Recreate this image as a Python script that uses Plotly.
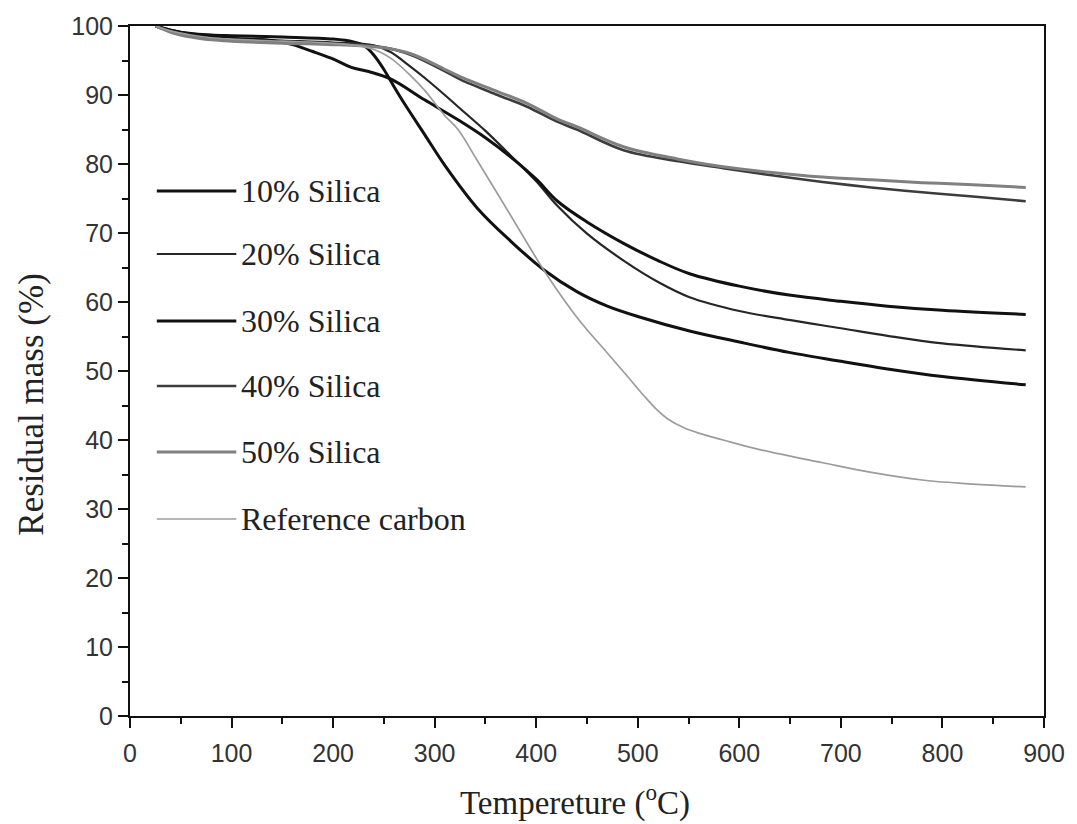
import plotly.graph_objects as go

# ---------------- data ----------------
t_10 = [25, 40, 60, 80, 100, 150, 200, 220, 230, 240, 250, 260, 270, 290, 310, 342, 375, 408, 440, 470, 500, 551, 600, 649, 700, 746, 800, 882]
m_10 = [100, 99.4, 98.9, 98.7, 98.6, 98.4, 98.1, 97.7, 97.2, 95.8, 93.7, 91.2, 88.8, 84.3, 79.8, 73.6, 68.8, 64.6, 61.5, 59.4, 57.9, 55.8, 54.2, 52.7, 51.4, 50.3, 49.2, 48.0]

t_20 = [25, 40, 60, 80, 100, 150, 200, 240, 257, 270, 290, 310, 323, 350, 375, 400, 421, 450, 486, 520, 551, 600, 649, 700, 746, 800, 882]
m_20 = [100, 99.4, 98.8, 98.4, 98.2, 97.9, 97.6, 97.2, 96.2, 94.8, 92.5, 90.0, 88.3, 84.8, 81.2, 77.5, 73.9, 69.9, 66.0, 62.9, 60.7, 58.7, 57.4, 56.2, 55.1, 54.0, 53.0]

t_30 = [25, 40, 60, 80, 100, 140, 160, 180, 202, 218, 235, 257, 290, 323, 350, 375, 400, 421, 450, 486, 520, 551, 600, 649, 700, 746, 800, 882]
m_30 = [100, 99.4, 98.8, 98.4, 98.2, 97.9, 97.3, 96.3, 95.1, 94.0, 93.4, 92.3, 89.3, 86.4, 83.8, 81.0, 77.8, 74.6, 71.6, 68.5, 66.0, 64.1, 62.3, 61.0, 60.1, 59.4, 58.8, 58.2]

t_40 = [25, 40, 60, 80, 100, 150, 200, 240, 260, 280, 313, 326, 362, 391, 421, 440, 486, 540, 584, 630, 682, 730, 780, 830, 882]
m_40 = [100, 99.2, 98.5, 98.1, 97.9, 97.6, 97.4, 97.1, 96.6, 95.6, 93.2, 92.2, 90.0, 88.3, 86.1, 85.0, 82.0, 80.4, 79.4, 78.4, 77.4, 76.6, 75.9, 75.3, 74.6]

t_50 = [25, 40, 60, 80, 100, 150, 200, 240, 260, 280, 313, 326, 362, 391, 421, 440, 486, 540, 584, 630, 682, 730, 780, 830, 882]
m_50 = [100, 99.1, 98.4, 98.0, 97.8, 97.5, 97.3, 97.0, 96.6, 95.8, 93.5, 92.6, 90.5, 88.8, 86.5, 85.4, 82.5, 80.7, 79.6, 78.8, 78.1, 77.7, 77.3, 77.0, 76.6]

t_ref = [25, 40, 60, 80, 100, 150, 200, 230, 245, 257, 275, 290, 310, 323, 342, 375, 408, 440, 470, 490, 505, 518, 530, 545, 560, 584, 620, 682, 730, 780, 830, 882]
m_ref = [100, 99.3, 98.7, 98.3, 98.1, 97.8, 97.5, 97.0, 96.3, 95.3, 93.0, 90.7, 87.0, 85.0, 80.5, 72.5, 64.5, 57.8, 52.6, 49.2, 46.6, 44.5, 43.0, 41.8, 41.0, 40.0, 38.6, 36.7, 35.3, 34.2, 33.6, 33.2]

series_names = ["10% Silica", "20% Silica", "30% Silica", "40% Silica", "50% Silica", "Reference carbon"]
series_t = [t_10, t_20, t_30, t_40, t_50, t_ref]
series_m = [m_10, m_20, m_30, m_40, m_50, m_ref]

x_ticks = [0, 100, 200, 300, 400, 500, 600, 700, 800, 900]
y_ticks = [0, 10, 20, 30, 40, 50, 60, 70, 80, 90, 100]

x_title = "Tempereture (<sup>o</sup>C)"
y_title = "Residual mass (%)"

# ---------------- styles ----------------
colors = ["#111111", "#262626", "#111111", "#3c3c3c", "#808080", "#9c9c9c"]
widths = [3.0, 2.2, 3.0, 2.6, 3.0, 1.7]
legend_rows_px = [191, 254, 321, 386, 452, 519]

W, H = 1077, 824
L, R, T, B = 130, 27, 26, 108
pw = W - L - R
ph = H - T - B

serif = "Liberation Serif, Times New Roman, serif"
sans = "Liberation Sans, Arial, sans-serif"

fig = go.Figure()
for name, tx, my, c, w in zip(series_names, series_t, series_m, colors, widths):
    fig.add_trace(go.Scatter(x=tx, y=my, mode="lines", name=name,
                             line=dict(color=c, width=w, shape="spline", smoothing=1.0),
                             showlegend=False, hoverinfo="skip"))

# manual legend inside the plot (sample lines + labels)
for name, c, w, py in zip(series_names, colors, widths, legend_rows_px):
    yp = (H - B - py) / ph
    fig.add_shape(type="line", xref="paper", yref="paper",
                  x0=(157 - L) / pw, x1=(237 - L) / pw, y0=yp, y1=yp,
                  line=dict(color=c, width=w))
    fig.add_annotation(xref="paper", yref="paper", x=(240 - L) / pw, y=yp,
                       text=name, showarrow=False, xanchor="left", yanchor="middle",
                       font=dict(family=serif, size=32, color="#222222"))

# axis titles
fig.add_annotation(xref="paper", yref="paper", x=(578 - L) / pw, y=(H - B - 800) / ph,
                   text=x_title, showarrow=False, xanchor="center", yanchor="middle",
                   font=dict(family=serif, size=33, color="#222222"))
fig.add_annotation(xref="paper", yref="paper", x=(30 - L) / pw, y=(H - B - 405) / ph,
                   text=y_title, showarrow=False, xanchor="center", yanchor="middle",
                   textangle=-90, font=dict(family=serif, size=35, color="#222222"))

axis_common = dict(showline=True, linecolor="#111111", linewidth=2, mirror=True,
                   showgrid=False, zeroline=False, ticks="outside", ticklen=10, tickwidth=2,
                   tickcolor="#111111",
                   tickfont=dict(family=sans, size=25, color="#333333"))

fig.update_xaxes(range=[0, 900], tickvals=x_ticks, ticktext=[str(v) for v in x_ticks],
                 minor=dict(dtick=50, ticks="outside", ticklen=6, tickwidth=2, tickcolor="#111111"),
                 ticklabelstandoff=4,
                 **axis_common)
fig.update_yaxes(range=[0, 100], tickvals=y_ticks, ticktext=[str(v) for v in y_ticks],
                 minor=dict(dtick=5, ticks="outside", ticklen=6, tickwidth=2, tickcolor="#111111"),
                 **axis_common)

fig.update_layout(width=W, height=H, margin=dict(l=L, r=R, t=T, b=B),
                  plot_bgcolor="white", paper_bgcolor="white")

fig.write_html("out.html")
